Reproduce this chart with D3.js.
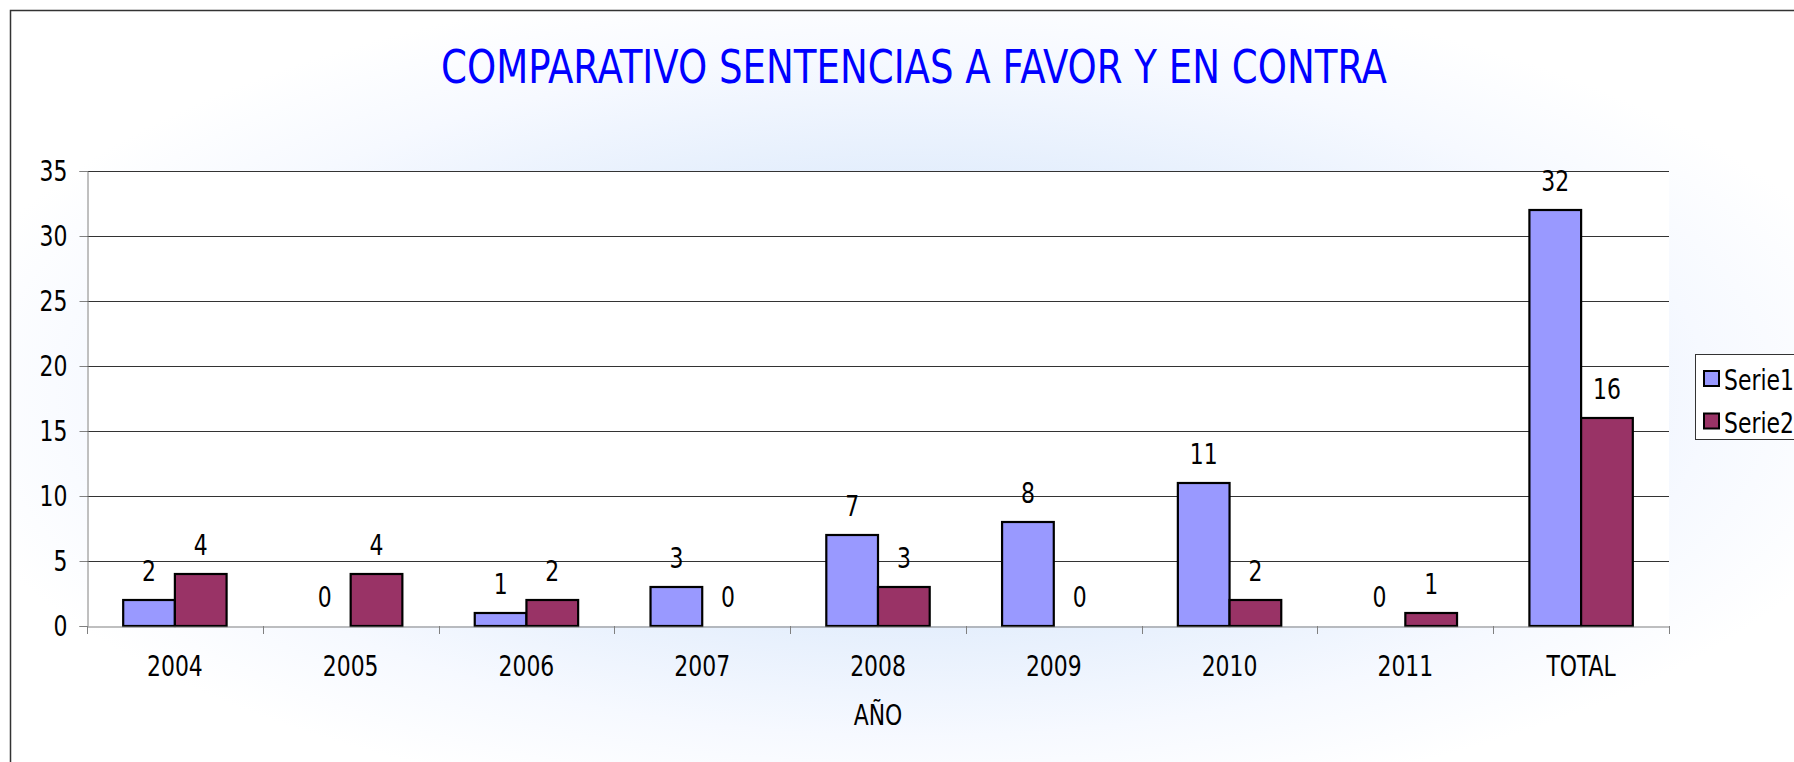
<!DOCTYPE html>
<html>
<head>
<meta charset="utf-8">
<script src="https://cdn.jsdelivr.net/npm/d3@7"></script>
<style>
  html, body { margin: 0; padding: 0; background: #fff; overflow: hidden; }
  svg { display: block; }
  text { font-family: "DejaVu Sans Condensed", "DejaVu Sans", sans-serif; fill: #000; }
</style>
</head>
<body>
<div id="chart"></div>
<script>
// data
const categories = ['2004', '2005', '2006', '2007', '2008', '2009', '2010', '2011', 'TOTAL'];
const serie1 = [2, 0, 1, 3, 7, 8, 11, 0, 32];
const serie2 = [4, 4, 2, 0, 3, 0, 2, 1, 16];
const seriesNames = ['Serie1', 'Serie2'];
const yTicks = [0, 5, 10, 15, 20, 25, 30, 35];

const width = 1794, height = 762;
const colors = ['#9999FF', '#993366'];
const plot = { left: 87, top: 171, right: 1669, bottom: 626 };
const fs = 29;     // label font size
const sx = 0.84;   // horizontal squeeze to mimic the narrow original font

const svg = d3.select('#chart').append('svg')
  .attr('width', width)
  .attr('height', height);

// background gradient of the chart area
const defs = svg.append('defs');
const grad = defs.append('radialGradient')
  .attr('id', 'bg')
  .attr('cx', '50%').attr('cy', '50%').attr('r', '55%');
grad.append('stop').attr('offset', '0%').attr('stop-color', '#d0e1f9');
grad.append('stop').attr('offset', '50%').attr('stop-color', '#e2edfc');
grad.append('stop').attr('offset', '80%').attr('stop-color', '#f6f9ff');
grad.append('stop').attr('offset', '100%').attr('stop-color', '#ffffff');

svg.append('rect')
  .attr('x', 10.5).attr('y', 10.5)
  .attr('width', 1808).attr('height', 772)
  .attr('fill', 'url(#bg)')
  .attr('stroke', '#333')
  .attr('stroke-width', 1.5);

// plot area
svg.append('rect')
  .attr('x', plot.left).attr('y', plot.top)
  .attr('width', plot.right - plot.left).attr('height', plot.bottom - plot.top)
  .attr('fill', '#fff');

const x0 = d3.scaleBand()
  .domain(categories)
  .range([plot.left, plot.right])
  .padding(0);

const x1 = d3.scaleBand()
  .domain(seriesNames)
  .range([0, x0.bandwidth()])
  .paddingInner(0)
  .paddingOuter(0.7);

const y = d3.scaleLinear()
  .domain([0, 35])
  .range([plot.bottom, plot.top]);

// helper: place a squeezed text
function label(sel, x, y) {
  return sel.attr('transform', `translate(${x},${y}) scale(${sx},1)`)
    .attr('font-size', fs);
}

// gridlines
svg.append('g')
  .selectAll('line')
  .data(yTicks.filter(d => d > 0))
  .enter().append('line')
  .attr('x1', plot.left).attr('x2', plot.right)
  .attr('y1', d => Math.round(y(d)) + 0.5).attr('y2', d => Math.round(y(d)) + 0.5)
  .attr('stroke', '#333')
  .attr('stroke-width', 1);

// y axis
const yAxis = svg.append('g')
  .attr('transform', `translate(${plot.left + 0.5},0)`)
  .call(d3.axisLeft(y).tickValues(yTicks).tickSize(8).tickPadding(16));
yAxis.select('.domain').attr('stroke', '#808080');
yAxis.selectAll('.tick line').attr('stroke', '#808080');
yAxis.selectAll('.tick text')
  .attr('font-size', fs)
  .attr('font-family', null)
  .attr('fill', '#000')
  .attr('transform', `scale(${sx},1)`);

// bars
const data = categories.map((c, i) => ({ cat: c, values: [serie1[i], serie2[i]] }));

const groups = svg.append('g')
  .selectAll('g')
  .data(data)
  .enter().append('g')
  .attr('transform', d => `translate(${x0(d.cat)},0)`);

groups.selectAll('rect')
  .data(d => d.values.map((v, k) => ({ key: seriesNames[k], value: v, k })))
  .enter().append('rect')
  .filter(d => d.value > 0)
  .attr('x', d => x1(d.key))
  .attr('y', d => y(d.value))
  .attr('width', x1.bandwidth())
  .attr('height', d => y(0) - y(d.value))
  .attr('fill', d => colors[d.k])
  .attr('stroke', '#000')
  .attr('stroke-width', 2.2);

// data labels
groups.selectAll('text')
  .data(d => d.values.map((v, k) => ({ key: seriesNames[k], value: v })))
  .enter().append('text')
  .each(function(d) {
    label(d3.select(this), x1(d.key) + x1.bandwidth() / 2, y(d.value) - 19);
  })
  .attr('text-anchor', 'middle')
  .text(d => d.value);

// x axis
const xAxis = svg.append('g')
  .attr('transform', `translate(0,${plot.bottom + 0.5})`)
  .call(d3.axisBottom(x0).tickSize(0).tickPadding(29));
xAxis.select('.domain').attr('stroke', '#808080');
xAxis.selectAll('.tick text')
  .attr('font-size', fs)
  .attr('font-family', null)
  .attr('fill', '#000')
  .attr('transform', `scale(${sx},1)`);

// x tick marks between categories
svg.append('g')
  .selectAll('line')
  .data(d3.range(categories.length + 1))
  .enter().append('line')
  .attr('x1', i => Math.round(plot.left + i * x0.step()) + 0.5)
  .attr('x2', i => Math.round(plot.left + i * x0.step()) + 0.5)
  .attr('y1', plot.bottom)
  .attr('y2', plot.bottom + 8)
  .attr('stroke', '#808080');

// axis title
label(svg.append('text'), (plot.left + plot.right) / 2, 725)
  .attr('text-anchor', 'middle')
  .text('AÑO');

// chart title
svg.append('text')
  .attr('x', 914)
  .attr('y', 83)
  .attr('text-anchor', 'middle')
  .attr('font-size', 47)
  .attr('textLength', 946)
  .attr('lengthAdjust', 'spacingAndGlyphs')
  .style('fill', '#0000FF')
  .text('COMPARATIVO SENTENCIAS A FAVOR Y EN CONTRA');

// legend
const legend = svg.append('g');
legend.append('rect')
  .attr('x', 1695.5).attr('y', 354.5)
  .attr('width', 118).attr('height', 85)
  .attr('fill', '#fff')
  .attr('stroke', '#333');

const items = legend.selectAll('g')
  .data(seriesNames)
  .enter().append('g')
  .attr('transform', (d, i) => `translate(0,${i * 42.5})`);

items.append('rect')
  .attr('x', 1704).attr('y', 371)
  .attr('width', 15).attr('height', 15)
  .attr('fill', (d, i) => colors[i])
  .attr('stroke', '#000')
  .attr('stroke-width', 2);

items.append('text')
  .each(function() { label(d3.select(this), 1724, 390); })
  .text(d => d);
</script>
</body>
</html>
